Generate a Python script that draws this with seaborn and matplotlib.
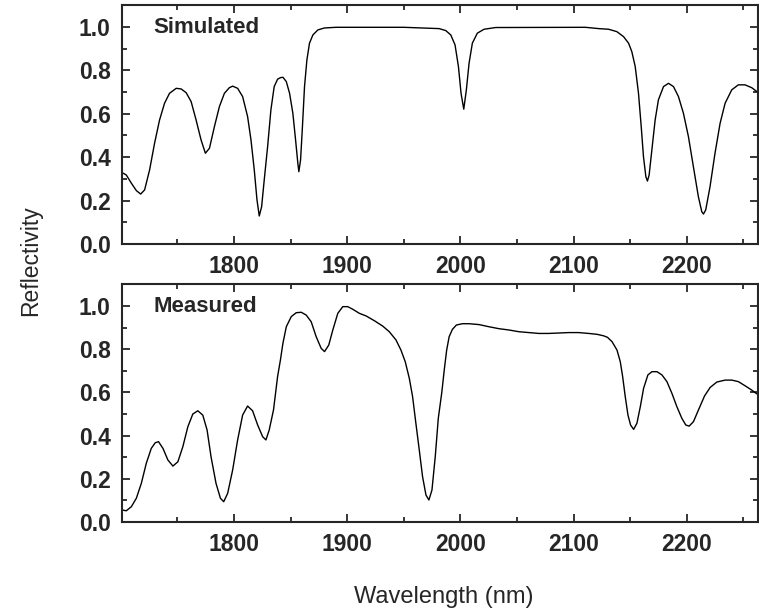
import numpy as np
import pandas as pd
import seaborn as sns
import matplotlib.pyplot as plt
from matplotlib.ticker import MultipleLocator

# simulated reflectivity spectrum
sim_wl = [1701, 1704.8, 1709.3, 1713.7, 1717.5, 1721, 1725.4, 1729.8, 1734.2, 1738.6,
          1743, 1748.9, 1753.3, 1757.7, 1762.1, 1766.5, 1770.9, 1774.7, 1778.3, 1782.7,
          1787.1, 1791.5, 1795.9, 1798.8, 1803.2, 1807.6, 1812, 1815, 1817.9, 1820.3,
          1822.3, 1824.4, 1826.7, 1829.7, 1832.6, 1835.5, 1838.5, 1841, 1843.2, 1846.2,
          1849.1, 1852, 1854.4, 1856.4, 1857.3, 1858.8, 1860.3, 1862.3, 1864.4, 1866.7,
          1869.7, 1874.1, 1880, 1890.2, 1950, 1981.2, 1987.1, 1991.5, 1995.3, 1998.3,
          2000.6, 2003, 2005.3, 2007.7, 2010.6, 2015, 2020.9, 2031.2, 2110.5, 2122.2,
          2131, 2138.3, 2144.2, 2148.6, 2151.5, 2154.5, 2157.4, 2159.8, 2161.8, 2163.9,
          2165.3, 2166.8, 2169.2, 2172.1, 2175, 2179.5, 2183.9, 2188.3, 2192.7, 2197.1,
          2201.5, 2205.9, 2210.3, 2213.3, 2214.8, 2216.8, 2220.6, 2225, 2229.5, 2233.9,
          2239.8, 2245.6, 2251.5, 2257.4, 2262]
sim_r = [0.329, 0.318, 0.28, 0.246, 0.23, 0.249, 0.341, 0.464, 0.571, 0.648,
         0.694, 0.717, 0.714, 0.697, 0.656, 0.571, 0.479, 0.418, 0.441, 0.541,
         0.633, 0.694, 0.72, 0.727, 0.717, 0.679, 0.587, 0.479, 0.341, 0.203,
         0.129, 0.172, 0.295, 0.449, 0.618, 0.725, 0.759, 0.766, 0.768, 0.748,
         0.694, 0.602, 0.479, 0.372, 0.333, 0.387, 0.525, 0.725, 0.848, 0.925,
         0.963, 0.986, 0.995, 0.998, 0.998, 0.992, 0.983, 0.963, 0.917, 0.817,
         0.694, 0.621, 0.71, 0.833, 0.925, 0.971, 0.989, 0.997, 0.998, 0.992,
         0.989, 0.978, 0.955, 0.925, 0.886, 0.817, 0.694, 0.541, 0.402, 0.31,
         0.29, 0.318, 0.433, 0.571, 0.664, 0.725, 0.74, 0.725, 0.679, 0.602,
         0.495, 0.356, 0.218, 0.149, 0.138, 0.157, 0.264, 0.418, 0.556, 0.648,
         0.71, 0.733, 0.733, 0.72, 0.702]

# measured reflectivity spectrum, bottom panel
meas_wl = [1701, 1704.8, 1709.3, 1713.7, 1718.1, 1722.5, 1726.9, 1730.4, 1733.3, 1737.2,
           1741.6, 1746, 1750.4, 1754.8, 1759.2, 1763.6, 1768, 1772.4, 1776.2, 1779.7,
           1784.1, 1788, 1790.9, 1794.4, 1798.8, 1803.2, 1807.6, 1812, 1816.4, 1820.9,
           1825.3, 1828.2, 1831.1, 1834.9, 1838.5, 1841, 1843.2, 1846.2, 1850.6, 1855,
           1859.4, 1863.8, 1868.2, 1872.6, 1877, 1880, 1883.7, 1887.3, 1891.7, 1896.1,
           1900.5, 1904.9, 1910.8, 1916.7, 1924, 1931.4, 1937.2, 1943.1, 1947.5, 1951.3,
           1954.9, 1957.8, 1960.7, 1963.7, 1966.6, 1969.6, 1972.2, 1974.9, 1977.8, 1980.5,
           1983.6, 1985.9, 1987.9, 1990.1, 1993, 1996.5, 2001.8, 2007.7, 2016.5, 2025.3,
           2034.1, 2042.9, 2051.7, 2060.5, 2069.3, 2078.1, 2086.9, 2095.7, 2104.5, 2113.4,
           2120.7, 2126.6, 2130, 2134, 2138.4, 2141.3, 2143.4, 2145.7, 2148.1, 2150.4,
           2153.1, 2156, 2159, 2161.9, 2165.7, 2169.3, 2173.7, 2178.1, 2182.5, 2186.9,
           2191.3, 2195.7, 2199.2, 2202.2, 2206, 2210.4, 2215.7, 2220.7, 2226.6, 2233.9,
           2239.8, 2245.6, 2251.5, 2257.4, 2262]
meas_r = [0.056, 0.052, 0.071, 0.11, 0.179, 0.272, 0.341, 0.367, 0.372, 0.341,
          0.287, 0.259, 0.279, 0.349, 0.441, 0.5, 0.515, 0.495, 0.426, 0.302,
          0.179, 0.11, 0.094, 0.133, 0.241, 0.38, 0.495, 0.537, 0.515, 0.449,
          0.395, 0.38, 0.426, 0.519, 0.673, 0.75, 0.827, 0.904, 0.951, 0.969,
          0.971, 0.958, 0.927, 0.858, 0.804, 0.789, 0.819, 0.889, 0.966, 0.997,
          0.997, 0.985, 0.966, 0.954, 0.932, 0.907, 0.881, 0.843, 0.796, 0.742,
          0.665, 0.58, 0.457, 0.333, 0.21, 0.125, 0.102, 0.148, 0.302, 0.48,
          0.6, 0.71, 0.796, 0.858, 0.892, 0.912, 0.918, 0.918, 0.914, 0.904,
          0.895, 0.889, 0.881, 0.877, 0.873, 0.873, 0.875, 0.877, 0.877, 0.873,
          0.869, 0.862, 0.855, 0.835, 0.796, 0.742, 0.673, 0.58, 0.495, 0.449,
          0.429, 0.457, 0.534, 0.619, 0.681, 0.696, 0.696, 0.681, 0.65, 0.596,
          0.534, 0.48, 0.449, 0.444, 0.465, 0.519, 0.583, 0.623, 0.648, 0.657,
          0.657, 0.65, 0.631, 0.611, 0.593]

panel_names = ["Simulated", "Measured"]
x_ticks = [1800, 1900, 2000, 2100, 2200]

sns.set_style("ticks")
plt.rcParams['font.family'] = ['Liberation Sans', 'DejaVu Sans']

fig = plt.figure(figsize=(7.59, 6.14), dpi=100)
ax_top = fig.add_axes([0.1607, 0.6026, 0.838, 0.389])
ax_bot = fig.add_axes([0.1607, 0.1498, 0.838, 0.387])

sim = pd.DataFrame({"wl": sim_wl, "r": sim_r})
meas = pd.DataFrame({"wl": meas_wl, "r": meas_r})

for ax, df, name in [(ax_top, sim, panel_names[0]), (ax_bot, meas, panel_names[1])]:
    sns.lineplot(data=df, x="wl", y="r", ax=ax, color="black", linewidth=1.0,
                 sort=False, estimator=None)
    ax.set_xlim(1701, 2263)
    ax.set_ylim(0, 1.1)
    ax.set_xticks(x_ticks)
    ax.xaxis.set_minor_locator(MultipleLocator(50))
    ax.yaxis.set_major_locator(MultipleLocator(0.2))
    ax.yaxis.set_minor_locator(MultipleLocator(0.1))
    ax.set_yticklabels([f"{v:.1f}" for v in ax.get_yticks()])
    ax.tick_params(which="both", direction="in", top=True, right=True, width=1.3)
    ax.tick_params(which="major", length=6, labelsize=16.5, pad=8)
    ax.tick_params(which="minor", length=3.5)
    for lbl in ax.get_xticklabels() + ax.get_yticklabels():
        lbl.set_fontweight("bold")
    for s in ax.spines.values():
        s.set_linewidth(1.5)
    ax.set_xlabel("")
    ax.set_ylabel("")
    ax.text(0.05, 0.905, name, transform=ax.transAxes, fontsize=16,
            fontweight="bold", va="center", ha="left")

fig.text(0.04, 0.576, "Reflectivity", rotation=90, fontsize=16.5,
         va="center", ha="center")
fig.text(0.584, 0.028, "Wavelength (nm)", fontsize=17, va="center", ha="center")

fig.savefig("out.png", dpi=100)
